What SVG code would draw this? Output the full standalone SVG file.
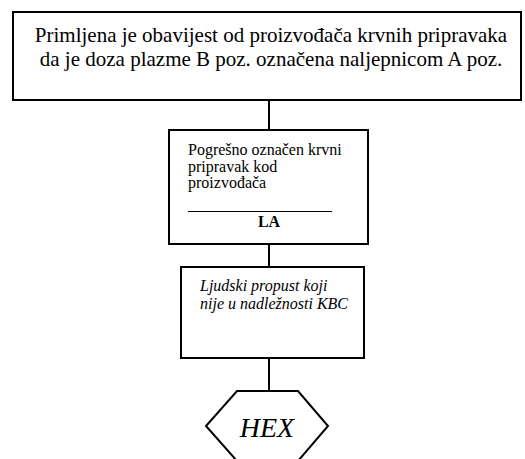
<svg xmlns="http://www.w3.org/2000/svg" width="525" height="459" viewBox="0 0 525 459">
<style>
.box{fill:#fff;stroke:#000;stroke-width:2}
.ln{stroke:#000;stroke-width:2;fill:none}
text{font-family:"Liberation Serif","Times New Roman",serif;fill:#000}
.t1{font-size:21px;text-anchor:middle}
.t2{font-size:16px}
.t3{font-size:16px;font-style:italic}
</style>
<rect width="525" height="459" fill="#fff"/>
<g id="connectors">
<line class="ln" x1="269" y1="100" x2="269" y2="130"/>
<line class="ln" x1="269" y1="244" x2="269" y2="267"/>
<line class="ln" x1="269" y1="358" x2="269" y2="391"/>
</g>
<g id="n1">
<rect class="box" x="13" y="12" width="508" height="88"/>
<text class="t1" x="271" y="42">Primljena je obavijest od proizvođača krvnih pripravaka</text>
<text class="t1" x="271" y="66">da je doza plazme B poz. označena naljepnicom A poz.</text>
</g>
<g id="n2">
<rect class="box" x="169" y="130" width="199" height="114"/>
<text class="t2" x="188" y="155">Pogrešno označen krvni</text>
<text class="t2" x="188" y="171.5">pripravak kod</text>
<text class="t2" x="188" y="188">proizvođača</text>
<line stroke="#000" stroke-width="1" x1="188" y1="211.5" x2="332" y2="211.5"/>
<text class="t2" x="269" y="227" text-anchor="middle" font-weight="bold">LA</text>
</g>
<g id="n3">
<rect class="box" x="181" y="267" width="183" height="91"/>
<text class="t3" x="200" y="291">Ljudski propust koji</text>
<text class="t3" x="200" y="309">nije u nadležnosti KBC</text>
</g>
<g id="hex">
<polygon class="box" points="237,391 298,391 328,426 298,461 237,461 206,426"/>
<text x="267" y="437" font-size="28" font-style="italic" text-anchor="middle">HEX</text>
</g>
</svg>
